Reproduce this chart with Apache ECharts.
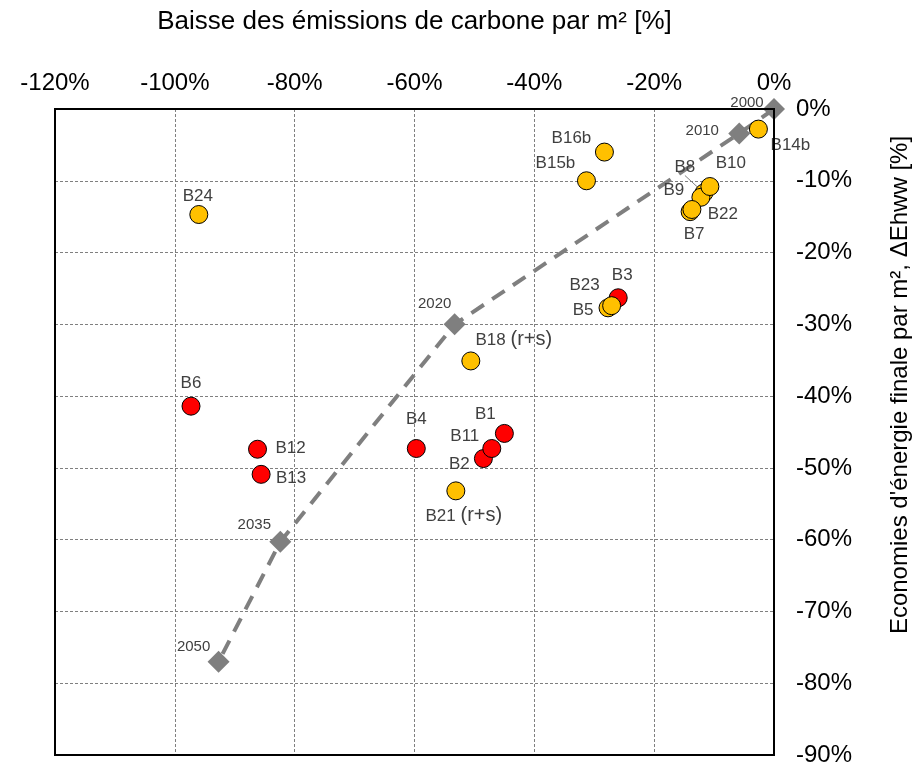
<!DOCTYPE html>
<html>
<head>
<meta charset="utf-8">
<script src="https://cdn.jsdelivr.net/npm/echarts@6/dist/echarts.min.js"></script>
<style>html,body{margin:0;padding:0;background:#fff}#c{width:914px;height:767px}</style>
</head>
<body>
<div id="c"></div>
<script>
// ---- data ----
const xTitle = 'Baisse des émissions de carbone par m² [%]';
const yTitle = "Economies d'énergie finale par m², ΔEhww [%]";

const yellowNames = ['B14b','B16b','B15b','B8','B22','B7','B9','B10','B24','B5','B23','B18 (r+s)','B21 (r+s)'];
const yellowX = [-2.6,-28.3,-31.3,-11.7,-12.2,-14.0,-13.7,-10.7,-96.0,-27.7,-27.1,-50.6,-53.1];
const yellowY = [-2.8,-6.0,-10.0,-11.7,-12.3,-14.3,-14.0,-10.8,-14.7,-27.7,-27.4,-35.1,-53.2];

const redNames = ['B3','B6','B12','B13','B4','B2','B11','B1'];
const redX = [-26.0,-97.3,-86.2,-85.6,-59.7,-48.5,-47.1,-45.0];
const redY = [-26.3,-41.4,-47.4,-50.9,-47.3,-48.7,-47.3,-45.2];

const years = ['2000','2010','2020','2035','2050'];
const trajX = [0,-5.8,-53.3,-82.4,-92.7];
const trajY = [0,-3.4,-30.0,-60.3,-77.0];

// ---- label placement (style, not data) ----
const labelOffsets = {
  'B14b':[32,16],'B16b':[-33,-14],'B15b':[-31,-17],'B8':[-19,-26],'B22':[22,17],'B7':[4,23],'B9':[-18,-19],
  'B10':[21,-23],'B24':[-1,-18],'B5':[-25,2],'B23':[-27,-20],'B18 (r+s)':[43,-21],'B21 (r+s)':[8,25],
  'B3':[4,-22],'B6':[0,-23],'B12':[33,-1],'B13':[30,4],'B4':[0,-29],'B1':[-19,-19],'B11':[-27,-12],'B2':[-24,6],
  '2000':[-27,-6],'2010':[-37,-3],'2020':[-20,-20],'2035':[-26,-17],'2050':[-25,-15]
};
const withLeader = ['B8'];

const FONT = "'Liberation Sans', Arial, sans-serif";

function fmtName(n){
  const m = n.match(/^(\S+) (\(.*\))$/);
  return m ? '{a|' + m[1] + '} {b|' + m[2] + '}' : '{a|' + n + '}';
}

function pts(names, xs, ys, fontSize){
  return names.map((n,i)=>{
    const item = {name:n, value:[xs[i], ys[i]],
      label:{show:true, position:'inside', formatter:fmtName(n),
             fontSize:fontSize, color:'#404040', fontFamily:FONT,
             rich:{a:{fontSize:fontSize, color:'#404040', fontFamily:FONT},
                   b:{fontSize:20, color:'#404040', fontFamily:FONT}}}};
    if (withLeader.indexOf(n) >= 0) item.labelLine = {show:true, lineStyle:{color:'#808080', width:1}};
    return item;
  });
}
function layoutFor(names){
  return function(p){
    const o = labelOffsets[names[p.dataIndex]] || [0,0];
    return {dx:o[0], dy:o[1]};
  };
}

const chart = echarts.init(document.getElementById('c'), null, {renderer:'canvas'});
const option = {
  animation:false,
  backgroundColor:'#fff',
  grid:{left:55, right:140, top:109, bottom:11, show:true, borderColor:'#000', borderWidth:2, containLabel:false, z:10},
  xAxis:{
    type:'value', position:'top', min:-120, max:0, interval:20,
    axisLabel:{formatter:'{value}%', fontSize:24, color:'#000', margin:14, fontFamily:FONT},
    axisTick:{show:false}, axisLine:{show:true, lineStyle:{color:'#000', width:2}},
    splitLine:{showMinLine:false, showMaxLine:false, lineStyle:{type:[3,2], color:'#7f7f7f', width:1}},
    name:xTitle, nameLocation:'middle', nameGap:74,
    nameTextStyle:{fontSize:26, color:'#000', fontFamily:FONT}
  },
  yAxis:{
    type:'value', position:'right', min:-90, max:0, interval:10,
    axisLabel:{formatter:'{value}%', fontSize:24, color:'#000', margin:22, fontFamily:FONT},
    axisTick:{show:false}, axisLine:{show:true, lineStyle:{color:'#000', width:2}},
    splitLine:{showMinLine:false, showMaxLine:false, lineStyle:{type:[3,2], color:'#7f7f7f', width:1}}
  },
  graphic:[{
    type:'text', x:900, y:385, rotation:Math.PI/2,
    style:{text:yTitle, fontSize:24, fill:'#000', fontFamily:FONT, align:'center', verticalAlign:'middle'}
  }],
  series:[
    {
      type:'line', name:'traj', z:2,
      data: years.map((y,i)=>({name:y, value:[trajX[i], trajY[i]],
        label:{show:true, position:'inside', offset:labelOffsets[y], formatter:y, fontSize:15, color:'#404040', fontFamily:FONT}})),
      symbol:'diamond', symbolSize:22, showAllSymbol:true,
      itemStyle:{color:'#7f7f7f', opacity:1},
      lineStyle:{color:'#7f7f7f', width:4, type:[15,10]}
    },
    {
      type:'scatter', name:'red', z:3,
      data: pts(redNames, redX, redY, 17),
      symbol:'circle', symbolSize:18,
      itemStyle:{color:'#FF0000', borderColor:'#000', borderWidth:1, opacity:1},
      labelLayout: layoutFor(redNames)
    },
    {
      type:'scatter', name:'yellow', z:4,
      data: pts(yellowNames, yellowX, yellowY, 17),
      symbol:'circle', symbolSize:18,
      itemStyle:{color:'#FFC000', borderColor:'#000', borderWidth:1, opacity:1},
      labelLayout: layoutFor(yellowNames)
    }
  ]
};
chart.setOption(option);
</script>
</body>
</html>
